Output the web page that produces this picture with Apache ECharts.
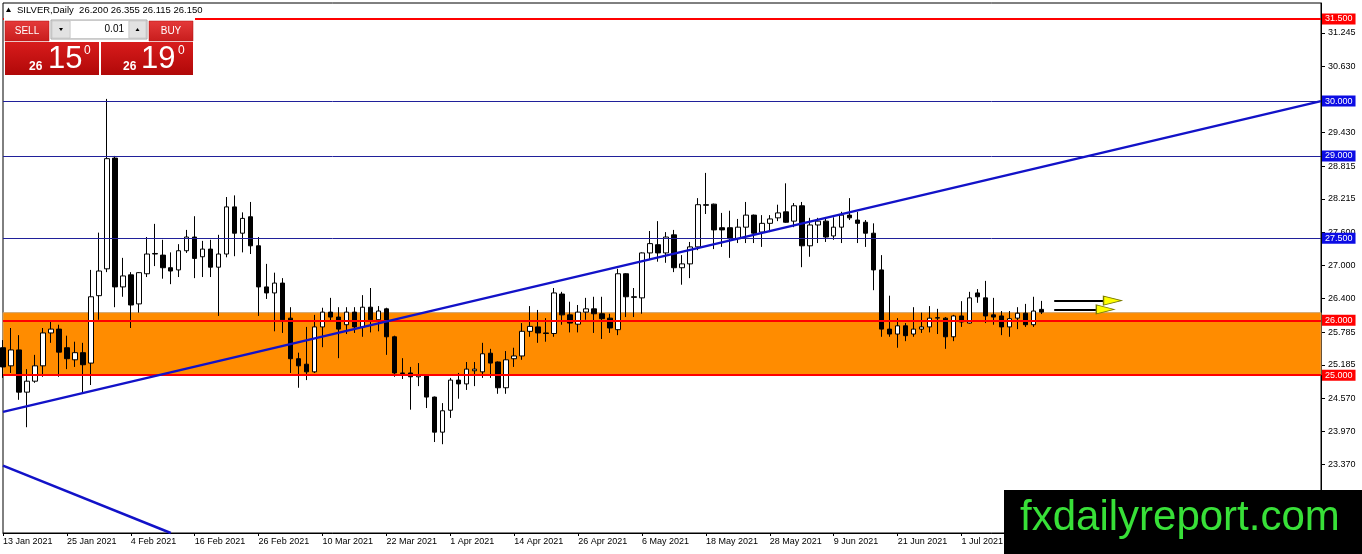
<!DOCTYPE html>
<html><head><meta charset="utf-8">
<script src="https://cdn.jsdelivr.net/npm/echarts@6/dist/echarts.min.js"></script>
<style>html,body{margin:0;padding:0;background:#fff}#c{width:1362px;height:554px}</style>
</head><body><div id="c"></div>
<script>
// ---- data ----
const symbolName = 'SILVER,Daily';
const tickLabels = ['13 Jan 2021','25 Jan 2021','4 Feb 2021','16 Feb 2021','26 Feb 2021','10 Mar 2021','22 Mar 2021','1 Apr 2021','14 Apr 2021','26 Apr 2021','6 May 2021','18 May 2021','28 May 2021','9 Jun 2021','21 Jun 2021','1 Jul 2021','13 Jul 2021'];
const barsPerTick = 8;
const slotCount = 166;
const opens = [25.50,25.17,25.46,24.69,24.89,25.17,25.77,25.84,25.50,25.28,25.41,25.22,26.45,26.94,28.96,26.61,26.83,26.30,26.85,27.21,
27.19,26.96,26.92,27.27,27.52,27.16,27.30,26.97,27.21,28.07,27.59,27.89,27.36,26.61,26.50,26.68,26.04,25.30,25.20,25.06,
25.88,26.15,26.06,25.92,26.15,25.88,26.24,26.01,26.21,25.70,25.04,25.04,24.97,25.00,24.60,23.96,24.36,24.91,24.84,25.08,
25.06,25.40,25.24,24.77,25.30,25.35,25.80,25.88,25.77,25.76,26.48,26.10,25.93,26.15,26.21,26.12,26.04,25.83,26.85,26.43,
26.41,27.23,27.38,27.23,27.56,26.96,27.03,27.34,28.11,28.12,27.69,27.69,27.49,27.70,27.92,27.61,27.77,27.87,27.98,27.81,
28.09,27.36,27.74,27.81,27.54,27.70,27.92,27.83,27.79,27.59,26.92,25.84,25.75,25.90,25.75,25.84,25.88,26.04,26.04,25.70,
26.08,25.95,26.50,26.41,26.10,26.08,25.88,26.04,26.13,25.92,26.200];
const highs = [25.64,25.86,25.73,25.11,25.37,25.86,25.99,25.92,25.72,25.61,25.59,26.92,27.60,30.04,29.00,27.14,26.88,26.88,27.52,27.76,
27.47,27.24,27.39,27.65,27.90,27.45,27.47,27.56,28.25,28.28,27.97,28.16,27.52,27.03,26.87,26.77,26.24,25.41,25.88,26.10,
26.23,26.41,26.24,26.24,26.24,26.46,26.59,26.26,26.23,25.72,25.31,25.15,25.22,25.01,24.61,24.49,24.95,25.04,25.24,25.24,
25.59,25.48,25.25,25.44,25.50,25.95,26.26,26.19,26.04,26.59,26.52,26.34,26.28,26.41,26.43,26.43,26.12,26.94,26.86,26.59,
27.24,27.63,27.81,27.61,27.65,27.19,27.43,28.23,28.69,28.13,27.96,28.00,27.85,28.16,27.93,27.92,27.92,28.11,28.50,28.14,
28.16,27.87,27.87,27.88,27.88,27.98,28.23,27.98,27.83,27.77,27.19,26.45,26.04,25.95,26.24,26.14,26.26,26.21,26.06,26.10,
26.35,26.52,26.57,26.72,26.41,26.17,26.17,26.24,26.30,26.43,26.355];
const lows = [24.95,25.04,24.55,24.05,24.86,24.97,25.59,24.97,25.11,25.15,24.68,24.82,26.01,26.88,26.24,26.43,25.86,26.14,26.79,26.99,
26.76,26.66,26.79,27.23,26.77,26.79,26.79,26.08,27.15,27.17,27.24,27.21,26.08,26.39,25.80,25.77,25.04,24.77,24.91,25.04,
25.51,25.97,25.31,25.75,25.77,25.70,25.78,25.80,25.37,24.97,24.93,24.37,24.80,24.40,23.78,23.74,24.22,24.57,24.73,24.80,
24.95,24.95,24.66,24.66,25.15,25.28,25.70,25.59,25.61,25.70,25.92,25.78,25.78,26.01,25.77,25.66,25.77,25.73,26.06,26.06,
26.12,27.10,27.07,27.05,26.88,26.65,26.77,27.28,27.94,27.30,27.34,27.14,27.41,27.41,27.41,27.34,27.61,27.81,27.78,27.70,
26.97,27.16,27.41,27.43,27.47,27.41,27.83,27.41,27.34,26.55,25.70,25.70,25.50,25.62,25.70,25.77,25.78,25.75,25.48,25.62,
25.88,25.94,26.32,25.95,25.92,25.73,25.70,25.84,25.88,25.88,26.115];
const closes = [25.15,25.46,24.69,24.89,25.17,25.77,25.84,25.42,25.30,25.41,25.19,26.43,26.90,28.95,26.61,26.81,26.28,26.87,27.21,27.22,
26.96,26.90,27.27,27.52,27.13,27.30,26.97,27.21,28.07,27.59,27.86,27.36,26.61,26.50,26.68,26.01,25.30,25.17,25.06,25.88,
26.15,26.06,25.84,26.15,25.88,26.24,26.01,26.17,25.70,25.04,25.03,24.97,25.00,24.60,23.96,24.35,24.91,24.84,25.11,25.11,
25.39,25.22,24.77,25.28,25.35,25.80,25.89,25.77,25.76,26.50,26.10,25.95,26.15,26.21,26.12,26.03,25.86,26.85,26.43,26.42,
27.23,27.40,27.23,27.52,26.96,27.03,27.34,28.11,28.10,27.65,27.65,27.49,27.70,27.92,27.59,27.77,27.85,27.96,27.79,28.09,
27.36,27.74,27.81,27.52,27.70,27.92,27.87,27.77,27.59,26.92,25.84,25.75,25.90,25.72,25.84,25.88,26.04,26.05,25.70,26.08,
25.97,26.41,26.43,26.08,26.06,25.88,26.03,26.13,25.92,26.17,26.150];
const yTicks = [31.245,30.630,29.430,28.815,28.215,27.600,27.000,26.400,25.785,25.185,24.570,23.970,23.370];
const yMin = 22.12, yMax = 31.79;
const redLevels = [31.5, 26.0, 25.0];
const blueLevels = [30.0, 29.0, 27.5];
const zoneBottom = 25.0, zoneTop = 26.14;
const risingTrend = [[0, 24.33], [165, 30.0]];
const fallingTrend = [[0, 23.35], [21, 22.12]];
const arrowUpper = {from: 131.6, to: 138.5, head: 138.9, price: 26.36};
const arrowLower = {from: 131.6, to: 137.6, head: 138.0, price: 26.20};
const bidWhole = '26', sellFrac = '15', buyFrac = '19', lotSize = '0.01';

// ---- build ----
const last = opens.length - 1;
const f3 = v => v.toFixed(3);
const categories = [];
for (let i = 0; i < slotCount; i++) categories.push(String(i));
const candles = opens.map((o, i) => [o, closes[i], lows[i], highs[i]]);
const FONT = 'Liberation Sans';

function levelLine(v, lineColor, labelBg, width) {
  return {
    yAxis: v,
    lineStyle: {color: lineColor, width: width, type: 'solid'},
    label: {show: true, position: 'end', distance: 1, formatter: () => f3(v),
      color: '#fff', backgroundColor: labelBg, fontSize: 9, fontFamily: FONT,
      padding: [1, 3, 0, 3], lineHeight: 10}
  };
}
const levelData = [];
redLevels.forEach(v => levelData.push(levelLine(v, '#ff0000', '#ff0000', 2)));
blueLevels.forEach(v => levelData.push(levelLine(v, '#20209a', '#0c0ce4', 1)));
const bidMark = levelLine(closes[last], '#000', '#000', 1);
bidMark.lineStyle.opacity = 0;
levelData.push(bidMark);

const redGrad = (a, b) => new echarts.graphic.LinearGradient(0, 0, 0, 1, [{offset: 0, color: a}, {offset: 1, color: b}]);

const chart = echarts.init(document.getElementById('c'), null, {renderer: 'canvas'});
chart.setOption({
  animation: false,
  backgroundColor: '#fff',
  grid: {left: 3, right: 41, top: 3, bottom: 21, show: true, borderColor: '#000', borderWidth: 1,
    backgroundColor: '#fff', containLabel: false, outerBoundsMode: 'none'},
  xAxis: [{
    type: 'category', data: categories, boundaryGap: false,
    axisLine: {show: true, lineStyle: {color: '#000', width: 1}},
    axisTick: {show: true, length: 3, lineStyle: {color: '#000'},
      interval: (i) => i % barsPerTick === 0 && i / barsPerTick < tickLabels.length},
    axisLabel: {show: true, align: 'left', margin: 4, fontSize: 9, fontFamily: FONT, color: '#000',
      interval: (i) => i % barsPerTick === 0 && i / barsPerTick < tickLabels.length,
      formatter: (v, i) => (i % barsPerTick === 0 ? (tickLabels[i / barsPerTick] || '') : '')},
    splitLine: {show: false}
  }, {
    type: 'value', min: 0, max: slotCount - 1, show: false
  }],
  yAxis: [{
    type: 'value', position: 'right', min: yMin, max: yMax, scale: true,
    axisLine: {show: true, onZero: false, lineStyle: {color: '#000'}},
    axisTick: {show: true, inside: false, length: 4, customValues: yTicks, lineStyle: {color: '#000'}},
    axisLabel: {show: true, customValues: yTicks, formatter: v => f3(v), fontSize: 9, fontFamily: FONT,
      color: '#000', margin: 7, align: 'left'},
    splitLine: {show: false}
  }],
  series: [
    {
      type: 'line', data: [], z: 1, silent: true,
      markArea: {silent: true, itemStyle: {color: '#ff8c00', borderColor: '#cfa068', borderWidth: 1},
        data: [[{yAxis: zoneBottom}, {yAxis: zoneTop}]]}
    },
    {
      type: 'candlestick', data: candles, z: 3, barWidth: 5, clip: true,
      itemStyle: {color: '#ffffff', color0: '#000000', borderColor: '#000000', borderColor0: '#000000', borderWidth: 1}
    },
    {
      type: 'line', data: [], z: 5, silent: true,
      markLine: {silent: true, symbol: ['none', 'none'], animation: false, data: levelData}
    },
    {
      type: 'scatter', xAxisIndex: 1, z: 6, silent: true,
      symbol: 'triangle', symbolRotate: -90, symbolSize: [9, 18],
      itemStyle: {color: '#ffff00', borderColor: '#7a7a00', borderWidth: 1, opacity: 1},
      data: [[arrowUpper.head, arrowUpper.price], [arrowLower.head, arrowLower.price]],
      markLine: {silent: true, symbol: ['none', 'none'], label: {show: false}, animation: false,
        data: [
          [{coord: risingTrend[0], lineStyle: {color: '#1212c8', width: 2.5, type: 'solid'}}, {coord: risingTrend[1]}],
          [{coord: fallingTrend[0], lineStyle: {color: '#1212c8', width: 2.5, type: 'solid'}}, {coord: fallingTrend[1]}],
          [{coord: [arrowUpper.from, arrowUpper.price], lineStyle: {color: '#000', width: 2, type: 'solid'}}, {coord: [arrowUpper.to, arrowUpper.price]}],
          [{coord: [arrowLower.from, arrowLower.price], lineStyle: {color: '#000', width: 2, type: 'solid'}}, {coord: [arrowLower.to, arrowLower.price]}]
        ]}
    }
  ],
  graphic: [
    // header
    {type: 'polygon', z: 100, shape: {points: [[6, 12], [11, 12], [8.5, 7.5]]}, style: {fill: '#000'}},
    {type: 'text', z: 100, x: 17, y: 10, style: {text: symbolName + '  ' + [opens[last], highs[last], lows[last], closes[last]].map(f3).join(' '),
      fill: '#000', font: '9.5px "Liberation Sans"', verticalAlign: 'middle'}},
    // trade panel
    {type: 'rect', z: 100, shape: {x: 4, y: 15, width: 191, height: 62}, style: {fill: '#fff'}},
    {type: 'rect', z: 101, shape: {x: 5, y: 21, width: 44, height: 20}, style: {fill: redGrad('#e53a3a', '#c81d1d'), stroke: '#b01010', lineWidth: 0.5}},
    {type: 'text', z: 102, x: 27, y: 31, style: {text: 'SELL', fill: '#fff', font: '10px "Liberation Sans"', align: 'center', verticalAlign: 'middle'}},
    {type: 'rect', z: 101, shape: {x: 51, y: 20, width: 96, height: 19}, style: {fill: '#ececec', stroke: '#a8a8a8', lineWidth: 1}},
    {type: 'rect', z: 102, shape: {x: 52, y: 21, width: 18, height: 17}, style: {fill: '#e2e2e2', stroke: '#b8b8b8', lineWidth: 0.5}},
    {type: 'polygon', z: 103, shape: {points: [[59, 28], [63, 28], [61, 31]]}, style: {fill: '#000'}},
    {type: 'rect', z: 102, shape: {x: 71, y: 21, width: 57, height: 17}, style: {fill: '#fff'}},
    {type: 'text', z: 103, x: 124, y: 29.5, style: {text: lotSize, fill: '#000', font: '10px "Liberation Sans"', align: 'right', verticalAlign: 'middle'}},
    {type: 'rect', z: 102, shape: {x: 129, y: 21, width: 17, height: 17}, style: {fill: '#e2e2e2', stroke: '#b8b8b8', lineWidth: 0.5}},
    {type: 'polygon', z: 103, shape: {points: [[135.5, 31], [139.5, 31], [137.5, 28]]}, style: {fill: '#000'}},
    {type: 'rect', z: 101, shape: {x: 149, y: 21, width: 44, height: 20}, style: {fill: redGrad('#e53a3a', '#c81d1d'), stroke: '#b01010', lineWidth: 0.5}},
    {type: 'text', z: 102, x: 171, y: 31, style: {text: 'BUY', fill: '#fff', font: '10px "Liberation Sans"', align: 'center', verticalAlign: 'middle'}},
    {type: 'rect', z: 101, shape: {x: 5, y: 42, width: 94, height: 33}, style: {fill: redGrad('#d81c1c', '#b00808')}},
    {type: 'rect', z: 101, shape: {x: 101, y: 42, width: 92, height: 33}, style: {fill: redGrad('#d81c1c', '#b00808')}},
    {type: 'text', z: 102, x: 29, y: 66.5, style: {text: bidWhole, fill: '#fff', font: 'bold 12px "Liberation Sans"', verticalAlign: 'middle'}},
    {type: 'text', z: 102, x: 48, y: 59, style: {text: sellFrac, fill: '#fff', font: '31px "Liberation Sans"', verticalAlign: 'middle'}},
    {type: 'text', z: 102, x: 84, y: 51, style: {text: '0', fill: '#fff', font: '12px "Liberation Sans"', verticalAlign: 'middle'}},
    {type: 'text', z: 102, x: 123, y: 66.5, style: {text: bidWhole, fill: '#fff', font: 'bold 12px "Liberation Sans"', verticalAlign: 'middle'}},
    {type: 'text', z: 102, x: 141, y: 59, style: {text: buyFrac, fill: '#fff', font: '31px "Liberation Sans"', verticalAlign: 'middle'}},
    {type: 'text', z: 102, x: 178, y: 51, style: {text: '0', fill: '#fff', font: '12px "Liberation Sans"', verticalAlign: 'middle'}},
    // watermark
    {type: 'rect', z: 110, shape: {x: 1004, y: 490, width: 358, height: 64}, style: {fill: '#000'}},
    {type: 'text', z: 111, x: 1020, y: 518, style: {text: 'fxdailyreport.com', fill: '#38e038', font: '42px "Liberation Sans"', verticalAlign: 'middle'}}
  ]
});
</script>
</body></html>
